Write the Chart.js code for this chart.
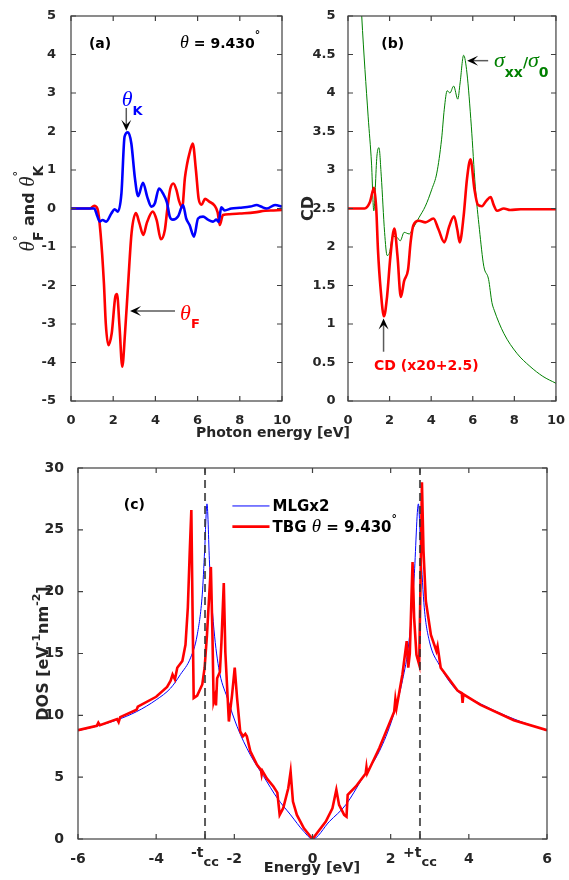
<!DOCTYPE html>
<html><head><meta charset="utf-8">
<script src="https://cdn.jsdelivr.net/npm/chart.js@4.4.1/dist/chart.umd.min.js"></script>
<style>
html,body{margin:0;padding:0;background:#fff}
body{width:569px;height:880px;position:relative;overflow:hidden}
canvas{position:absolute;left:0;top:0}
</style></head><body>
<canvas id="cc" width="569" height="880"></canvas>
<canvas id="cb" width="569" height="880"></canvas>
<canvas id="ca" width="569" height="880"></canvas>
<script>
// ---------- Panel (a): Faraday (theta_F) and Kerr (theta_K) rotation ----------
const aFarE = [0,0.5,0.9,1.1,1.25,1.4,1.56,1.65,1.77,1.93,2.1,2.18,2.3,2.43,2.56,2.71,2.87,3.08,3.24,3.43,3.59,3.87,4.06,4.26,4.45,4.56,4.7,4.85,5.0,5.12,5.27,5.4,5.5,5.6,5.77,5.92,6.05,6.19,6.35,6.55,6.8,6.95,7.05,7.2,7.5,8.0,8.7,9.2,9.6,10];
const aFarV = [0,0,0,0.07,0,-0.64,-1.94,-3.0,-3.55,-3.24,-2.29,-2.22,-3.07,-4.11,-3.24,-1.94,-0.64,-0.12,-0.38,-0.69,-0.38,-0.08,-0.30,-0.8,-0.55,-0.04,0.5,0.65,0.48,0.2,0.03,0.8,1.15,1.4,1.69,1.0,0.25,0.1,0.25,0.18,0.08,-0.1,-0.43,-0.17,-0.15,-0.13,-0.1,-0.06,-0.05,-0.04];
const aKerE = [0,0.5,1.1,1.25,1.36,1.5,1.67,1.91,2.07,2.22,2.39,2.54,2.70,2.86,3.02,3.18,3.41,3.62,3.81,3.97,4.17,4.36,4.55,4.68,4.83,5.07,5.31,5.46,5.62,5.83,6.02,6.26,6.49,6.73,6.89,7.0,7.12,7.28,7.6,8.0,8.5,8.8,9.0,9.28,9.67,10];
const aKerV = [0,0,0,-0.2,-0.34,-0.3,-0.34,-0.13,-0.02,-0.08,0.39,1.87,1.98,1.69,0.83,0.32,0.67,0.29,0.05,0.13,0.52,0.39,0.15,-0.21,-0.29,-0.21,0.09,-0.26,-0.43,-0.73,-0.26,-0.21,-0.29,-0.34,-0.29,-0.35,0.03,-0.05,0,0.02,0.05,0.09,0.05,0,0.09,0.05];
const aXTicks = [0,2,4,6,8,10];
const aYTicks = [-5,-4,-3,-2,-1,0,1,2,3,4,5];

// ---------- Panel (b): CD (x20+2.5) and sigma_xx/sigma_0 ----------
const bCdE = [0,0.8,1.05,1.25,1.36,1.44,1.57,1.73,1.88,2.04,2.23,2.38,2.54,2.7,2.89,3.01,3.14,3.41,3.72,4.11,4.35,4.63,4.87,5.10,5.26,5.37,5.56,5.72,5.89,6.08,6.24,6.44,6.65,6.86,7.0,7.17,7.49,7.8,8.3,9,10];
const bCdV = [2.5,2.5,2.58,2.77,2.49,1.97,1.45,1.10,1.36,1.88,2.24,1.88,1.35,1.56,1.71,2.06,2.28,2.34,2.32,2.37,2.23,2.06,2.27,2.40,2.22,2.06,2.40,2.88,3.14,2.75,2.55,2.53,2.6,2.65,2.55,2.47,2.5,2.48,2.49,2.49,2.49];
const bSigE = [0.4,0.66,0.97,1.13,1.24,1.39,1.49,1.60,1.76,1.88,1.99,2.15,2.38,2.51,2.70,2.94,3.14,3.41,3.72,4.03,4.27,4.5,4.63,4.77,4.9,5.08,5.28,5.39,5.56,5.72,5.93,6.12,6.32,6.53,6.76,6.92,7.03,7.49,8.12,8.75,9.37,10];
const bSigV = [6.5,5.0,3.69,3.09,2.47,3.18,3.29,2.92,2.19,1.89,1.92,2.14,2.12,2.08,2.19,2.17,2.25,2.38,2.53,2.75,2.96,3.40,3.79,4.03,4.0,4.09,3.92,4.13,4.49,4.26,3.57,2.79,2.23,1.75,1.58,1.28,1.18,0.88,0.62,0.45,0.32,0.23];
const bXTicks = [0,2,4,6,8,10];
const bYTicks = [0,0.5,1,1.5,2,2.5,3,3.5,4,4.5,5];

// ---------- Panel (c): DOS ----------
const cMlgE = [-6,-5.5,-5,-4.5,-4,-3.63,-3.38,-3.12,-2.95,-2.82,-2.76,-2.70,-2.63,-2.54,-2.40,-2.18,-1.93,-1.59,-1.25,-0.90,-0.56,-0.22,0,0.43,0.85,1.28,1.71,2.05,2.30,2.47,2.60,2.71,2.77,2.86,2.99,3.24,3.71,3.96,4.64,5.32,6];
const cMlgV = [8.76,9.14,9.63,10.3,11.25,12.2,13.3,14.65,16.5,19.8,23.3,27.1,21.95,17.6,13.85,11.4,9.1,6.8,5.06,3.3,1.95,0.6,0,1.41,2.76,4.92,7.09,9.8,12.8,16.0,21.1,27.1,23.3,18.7,16.0,14.1,11.95,11.5,10.4,9.5,8.76];
const cTbgE = [-6,-5.52,-5.48,-5.44,-5.0,-4.96,-4.92,-4.5,-4.47,-4,-3.72,-3.63,-3.58,-3.52,-3.46,-3.33,-3.25,-3.19,-3.14,-3.10,-3.07,-3.04,-2.95,-2.82,-2.76,-2.70,-2.65,-2.60,-2.56,-2.53,-2.49,-2.47,-2.44,-2.37,-2.33,-2.27,-2.23,-2.14,-2.06,-1.99,-1.93,-1.85,-1.78,-1.72,-1.68,-1.59,-1.42,-1.32,-1.30,-1.28,-1.17,-1.00,-0.90,-0.84,-0.75,-0.62,-0.56,-0.50,-0.40,-0.22,0,0.34,0.51,0.61,0.68,0.81,0.87,0.90,1.11,1.36,1.38,1.40,1.71,2.09,2.12,2.15,2.30,2.41,2.45,2.49,2.53,2.56,2.60,2.66,2.73,2.77,2.80,2.84,2.90,3.03,3.17,3.20,3.28,3.71,3.82,3.84,3.86,4.3,5.15,6];
const cTbgV = [8.8,9.15,9.4,9.2,9.7,9.45,9.85,10.45,10.7,11.5,12.3,12.8,13.3,12.9,13.85,14.4,15.7,18.7,23.3,26.6,18.7,11.4,11.6,12.5,13.85,16.5,19.3,22.0,16.5,11.1,11.6,10.8,13.0,13.5,15.9,20.7,15.1,9.5,11.6,13.85,11.4,8.7,8.3,8.5,8.3,7.1,6.0,5.6,5.2,5.5,4.9,4.25,3.75,1.95,2.49,4.1,5.45,3.03,1.95,0.87,0,1.41,2.49,3.98,2.76,1.95,1.8,3.57,4.25,5.3,5.8,5.3,7.36,10.3,11.3,10.6,13.3,16.0,13.85,15.0,19.25,22.4,17.9,14.9,14.1,21.95,28.85,23.3,19.25,16.5,15.2,15.6,13.85,12.0,11.8,11.0,11.7,10.85,9.6,8.8];
const tcc = 2.75;
const cXTicks = [-6,-4,-tcc,-2,0,2,tcc,4,6];
const cXTickLabels = ['-6','-4','-t_cc','-2','0','2','+t_cc','4','6'];
const cYTicks = [0,5,10,15,20,25,30];

// ---------- helpers ----------
const AXC = '#404040', TXT = '#262626';
const SB = s => `bold ${s}px "DejaVu Sans"`;
const SI = s => `italic ${s}px "Liberation Serif"`;
const pts = (xs, ys) => xs.map((x, i) => ({x, y: ys[i]}));

function rich(ctx, x, y, parts, align) {
  let total = 0, keepW = 0;
  parts.forEach(p => { ctx.font = p.f; const w = ctx.measureText(p.t).width;
    if (p.keep) keepW = w; else { total += Math.max(w, keepW); keepW = 0; } });
  let cx = align === 'center' ? x - total / 2 : x;
  keepW = 0;
  parts.forEach(p => {
    ctx.font = p.f; ctx.fillStyle = p.c || '#000';
    ctx.fillText(p.t, cx, y + (p.dy || 0));
    const w = ctx.measureText(p.t).width;
    if (p.keep) keepW = w; else { cx += Math.max(w, keepW); keepW = 0; }
  });
}
function arrow(ctx, x1, y1, x2, y2) {
  ctx.save();
  ctx.strokeStyle = '#5a5a5a'; ctx.lineWidth = 1.5;
  const ang = Math.atan2(y2 - y1, x2 - x1), c = Math.cos(ang), s = Math.sin(ang);
  const L = 11, W = 5;
  ctx.beginPath(); ctx.moveTo(x1, y1); ctx.lineTo(x2 - 5 * c, y2 - 5 * s); ctx.stroke();
  ctx.fillStyle = '#000'; ctx.beginPath();
  ctx.moveTo(x2, y2);
  ctx.lineTo(x2 - L * c - W * s, y2 - L * s + W * c);
  ctx.lineTo(x2 - 0.55 * L * c, y2 - 0.55 * L * s);
  ctx.lineTo(x2 - L * c + W * s, y2 - L * s - W * c);
  ctx.closePath(); ctx.fill();
  ctx.restore();
}
function frame(extra) {
  return { id: 'frame', afterDraw(chart) {
    const ctx = chart.ctx, a = chart.chartArea, xs = chart.scales.x, ys = chart.scales.y;
    ctx.save();
    ctx.strokeStyle = AXC; ctx.lineWidth = 1.2;
    ctx.beginPath();
    xs.ticks.forEach(t => { const p = xs.getPixelForValue(t.value);
      ctx.moveTo(p, a.bottom); ctx.lineTo(p, a.bottom - 5); ctx.moveTo(p, a.top); ctx.lineTo(p, a.top + 5); });
    ys.ticks.forEach(t => { const p = ys.getPixelForValue(t.value);
      ctx.moveTo(a.left, p); ctx.lineTo(a.left + 5, p); ctx.moveTo(a.right, p); ctx.lineTo(a.right - 5, p); });
    ctx.stroke();
    ctx.strokeRect(a.left, a.top, a.right - a.left, a.bottom - a.top);
    const P = (x, y) => [xs.getPixelForValue(x), ys.getPixelForValue(y)];
    ctx.textBaseline = 'alphabetic'; ctx.textAlign = 'left';
    extra(ctx, P, a, xs, ys);
    ctx.restore();
  }};
}
function scales(o) {
  return {
    x: { type: 'linear', min: o.xmin, max: o.xmax,
      afterBuildTicks: s => { s.ticks = o.xt.map(v => ({value: v})); },
      afterFit: s => { s.height = o.xh; },
      grid: { display: false }, border: { display: false },
      ticks: { autoSkip: false, maxRotation: 0, padding: o.xpad, color: TXT, font: { family: 'DejaVu Sans', weight: 'bold', size: o.fs },
        callback: o.xlab || (v => String(v)) } },
    y: { type: 'linear', min: o.ymin, max: o.ymax,
      afterBuildTicks: s => { s.ticks = o.yt.map(v => ({value: v})); },
      afterFit: s => { s.width = o.yw; },
      grid: { display: false }, border: { display: false },
      ticks: { autoSkip: false, padding: o.ypad, color: TXT, font: { family: 'DejaVu Sans', weight: 'bold', size: o.fs },
        callback: v => String(v) } }
  };
}
const base = { responsive: false, animation: false, events: [],
  plugins: { legend: { display: false }, tooltip: { enabled: false } },
  elements: { point: { radius: 0 } } };

// ---------- Chart (a) ----------
new Chart(document.getElementById('ca'), {
  type: 'line',
  data: { datasets: [
    { data: pts(aKerE, aKerV), borderColor: '#0000ff', borderWidth: 2.6, cubicInterpolationMode: 'monotone' },
    { data: pts(aFarE, aFarV), borderColor: '#ff0000', borderWidth: 2.6, cubicInterpolationMode: 'monotone' }
  ]},
  options: Object.assign({}, base, {
    layout: { padding: { left: 0, top: 16, right: 287, bottom: 440 } },
    scales: scales({ xmin: 0, xmax: 10, xt: aXTicks, ymin: -5, ymax: 5, yt: aYTicks, xh: 39, yw: 71, xpad: 4, ypad: 7, fs: 13 })
  }),
  plugins: [frame((ctx, P, a) => {
    let [x, y] = P(0.85, 4.17);
    rich(ctx, x, y, [{ t: '(a)', f: SB(14) }]);
    [x, y] = P(5.17, 4.17);
    rich(ctx, x, y, [{ t: 'θ', f: SI(18) }, { t: ' = 9.430', f: SB(14) }, { t: '°', f: SB(11), dy: -10 }]);
    // theta_K
    [x, y] = P(2.40, 2.65);
    rich(ctx, x, y, [{ t: 'θ', f: SI(22), c: '#0000ff' }, { t: 'K', f: SB(13), c: '#0000ff', dy: 9 }]);
    let [x1, y1] = P(2.62, 2.61), [x2, y2] = P(2.62, 2.02);
    arrow(ctx, x1, y1, x2, y2);
    // theta_F
    [x, y] = P(5.17, -2.90);
    rich(ctx, x, y, [{ t: 'θ', f: SI(22), c: '#ff0000' }, { t: 'F', f: SB(13), c: '#ff0000', dy: 8 }]);
    [x1, y1] = P(4.93, -2.66); [x2, y2] = P(2.80, -2.66);
    arrow(ctx, x1, y1, x2, y2);
    // y title
    ctx.save(); ctx.translate(34, (a.top + a.bottom) / 2); ctx.rotate(-Math.PI / 2);
    rich(ctx, 0, 0, [{ t: 'θ', f: SI(21), c: TXT }, { t: '°', f: SB(11), dy: -13, keep: true, c: TXT }, { t: 'F', f: SB(14), dy: 9, c: TXT },
      { t: ' and ', f: SB(16), c: TXT }, { t: 'θ', f: SI(21), c: TXT }, { t: '°', f: SB(11), dy: -13, keep: true, c: TXT }, { t: 'K', f: SB(14), dy: 9, c: TXT }], 'center');
    ctx.restore();
    // shared x title
    rich(ctx, 273, 437, [{ t: 'Photon energy [eV]', f: SB(14), c: TXT }], 'center');
  })]
});

// ---------- Chart (b) ----------
new Chart(document.getElementById('cb'), {
  type: 'line',
  data: { datasets: [
    { data: pts(bCdE, bCdV), borderColor: '#ff0000', borderWidth: 2.6, cubicInterpolationMode: 'monotone' },
    { data: pts(bSigE, bSigV), borderColor: '#008000', borderWidth: 1, cubicInterpolationMode: 'monotone' }
  ]},
  options: Object.assign({}, base, {
    layout: { padding: { left: 280, top: 16, right: 9, bottom: 440 } },
    scales: scales({ xmin: 0, xmax: 10, xt: bXTicks, ymin: 0, ymax: 5, yt: bYTicks, xh: 39, yw: 68, xpad: 4, ypad: 4.5, fs: 13 })
  }),
  plugins: [frame((ctx, P, a) => {
    let [x, y] = P(1.60, 4.58);
    rich(ctx, x, y, [{ t: '(b)', f: SB(14) }]);
    [x, y] = P(7.02, 4.34);
    const G = '#008000';
    rich(ctx, x, y, [{ t: 'σ', f: SI(22), c: G }, { t: 'xx', f: SB(14), c: G, dy: 10 }, { t: '/', f: SB(14), c: G },
      { t: 'σ', f: SI(22), c: G }, { t: '0', f: SB(14), c: G, dy: 10 }]);
    let [x1, y1] = P(6.74, 4.42), [x2, y2] = P(5.73, 4.42);
    arrow(ctx, x1, y1, x2, y2);
    [x, y] = P(1.25, 0.40);
    rich(ctx, x, y, [{ t: 'CD (x20+2.5)', f: SB(14), c: '#ff0000' }]);
    [x1, y1] = P(1.71, 0.64); [x2, y2] = P(1.71, 1.07);
    arrow(ctx, x1, y1, x2, y2);
    ctx.save(); ctx.translate(313, (a.top + a.bottom) / 2); ctx.rotate(-Math.PI / 2);
    rich(ctx, 0, 0, [{ t: 'CD', f: SB(16), c: TXT }], 'center');
    ctx.restore();
  })]
});

// ---------- Chart (c) ----------
new Chart(document.getElementById('cc'), {
  type: 'line',
  data: { datasets: [
    { data: [{x: -tcc, y: 0}, {x: -tcc, y: 30}], borderColor: 'rgba(50,50,50,0.8)', borderWidth: 2, borderDash: [8, 5] },
    { data: [{x: tcc, y: 0}, {x: tcc, y: 30}], borderColor: 'rgba(50,50,50,0.8)', borderWidth: 2, borderDash: [8, 5] },
    { data: pts(cTbgE, cTbgV), borderColor: '#ff0000', borderWidth: 2.6, tension: 0 },
    { data: pts(cMlgE, cMlgV), borderColor: '#0000ff', borderWidth: 1, cubicInterpolationMode: 'monotone' }
  ]},
  options: Object.assign({}, base, {
    layout: { padding: { left: 0, top: 468, right: 22, bottom: 0 } },
    scales: scales({ xmin: -6, xmax: 6, xt: cXTicks, ymin: 0, ymax: 30, yt: cYTicks, xh: 41, yw: 78, xpad: 4, ypad: 6, fs: 14,
      xlab: (v, i) => { const l = cXTickLabels[i]; return l.includes('t_') ? '' : l; } })
  }),
  plugins: [frame((ctx, P, a, xs) => {
    cXTicks.forEach((v, i) => {
      const l = cXTickLabels[i];
      if (!l.includes('t_')) return;
      const [main, sub] = l.split('_');
      rich(ctx, xs.getPixelForValue(v), 856.5, [{ t: main, f: SB(14), c: TXT }, { t: sub, f: SB(13), c: TXT, dy: 9 }], 'center');
    });
    let [x, y] = P(-4.83, 26.66);
    rich(ctx, x, y, [{ t: '(c)', f: SB(14) }]);
    let [lx1, ly1] = P(-2.05, 26.93), [lx2] = P(-1.10, 26.93);
    ctx.strokeStyle = '#0000ff'; ctx.lineWidth = 1;
    ctx.beginPath(); ctx.moveTo(lx1, ly1); ctx.lineTo(lx2, ly1); ctx.stroke();
    rich(ctx, lx2 + 3, ly1 + 5.5, [{ t: 'MLGx2', f: SB(15) }]);
    let [, ly2] = P(-2.05, 25.26);
    ctx.strokeStyle = '#ff0000'; ctx.lineWidth = 2.6;
    ctx.beginPath(); ctx.moveTo(lx1, ly2); ctx.lineTo(lx2, ly2); ctx.stroke();
    rich(ctx, lx2 + 3, ly2 + 5.5, [{ t: 'TBG ', f: SB(15) }, { t: 'θ', f: SI(19) }, { t: ' = 9.430', f: SB(15) }, { t: '°', f: SB(11), dy: -10 }]);
    ctx.save(); ctx.translate(48, (a.top + a.bottom) / 2); ctx.rotate(-Math.PI / 2);
    rich(ctx, 0, 0, [{ t: 'DOS [eV', f: SB(16), c: TXT }, { t: '-1', f: SB(11), dy: -8, c: TXT }, { t: 'nm', f: SB(16), c: TXT },
      { t: '-2', f: SB(11), dy: -8, c: TXT }, { t: ']', f: SB(16), c: TXT }], 'center');
    ctx.restore();
    rich(ctx, 312, 872, [{ t: 'Energy [eV]', f: SB(14.5), c: TXT }], 'center');
  })]
});
</script>
</body></html>
